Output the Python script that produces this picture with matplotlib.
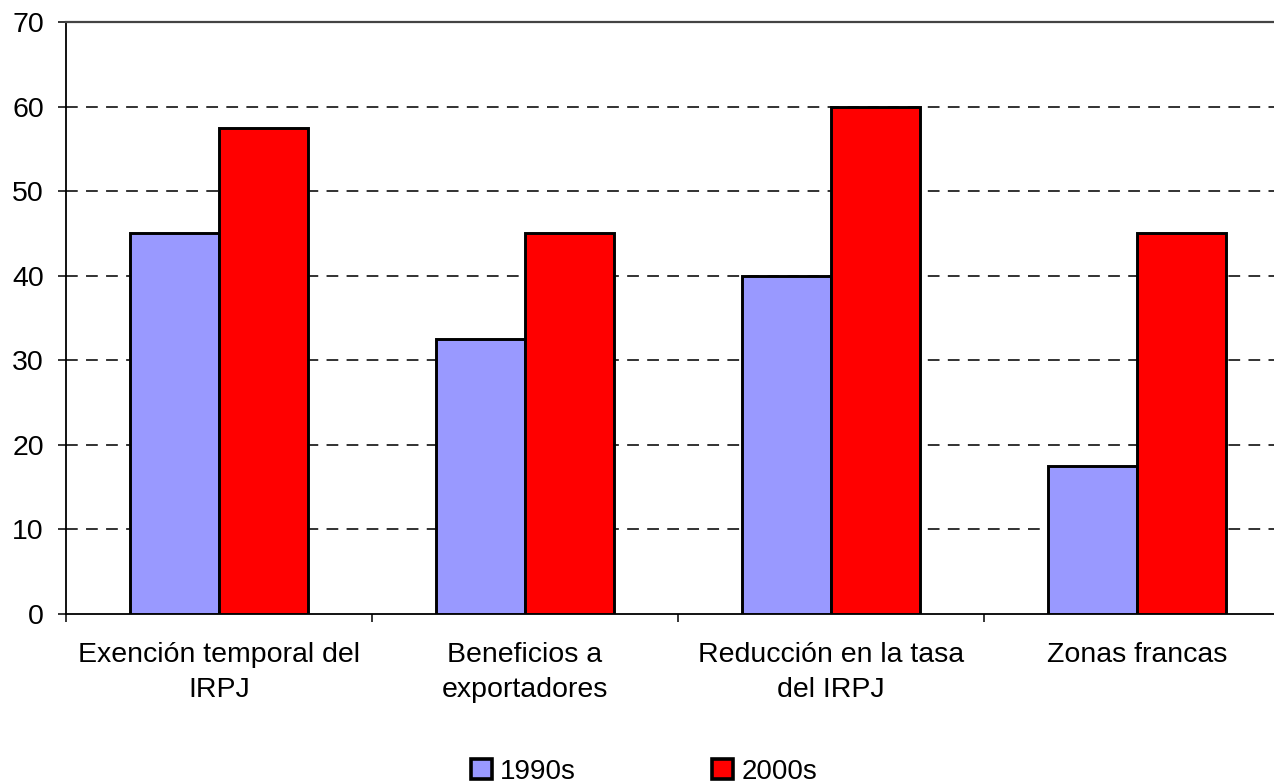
import matplotlib
matplotlib.use("Agg")
import matplotlib.pyplot as plt
import numpy as np
from matplotlib.patches import Patch

plt.rcParams['font.family'] = ['Liberation Sans', 'DejaVu Sans']

categories = ["Exención temporal del\nIRPJ", "Beneficios a\nexportadores",
              "Reducción en la tasa\ndel IRPJ", "Zonas francas"]
series_names = ["1990s", "2000s"]
values_1990s = [45, 32.5, 40, 17.5]
values_2000s = [57.5, 45, 60, 45]
y_ticks = [0, 10, 20, 30, 40, 50, 60, 70]

COL_90 = "#9999FF"
COL_00 = "#FF0000"

fig = plt.figure(figsize=(12.74, 7.84), dpi=100)
fig.patch.set_facecolor("white")
ax = fig.add_axes([66 / 1274, 1 - 614 / 784, 1224 / 1274, 592 / 784])

x = np.arange(len(categories))
w = 0.29
ax.bar(x - w / 2, values_1990s, w, color=COL_90, edgecolor="black", linewidth=2.1, zorder=3)
ax.bar(x + w / 2, values_2000s, w, color=COL_00, edgecolor="black", linewidth=2.1, zorder=3)

ax.set_xlim(-0.5, len(categories) - 0.5)
ax.set_ylim(0, 70)

# dashed gridlines
for t in y_ticks[1:-1]:
    ax.axhline(t, color="#222222", linewidth=1.3, linestyle=(0, (6.5, 4.6)), zorder=1)

ax.set_yticks(y_ticks)
ax.tick_params(axis="y", length=6, width=1.1, pad=10, labelsize=20.5, direction="out")

ax.set_xticks(np.arange(-0.5, len(categories) - 0.5, 1.0))
ax.set_xticklabels([])
ax.set_xticks(x, minor=True)
ax.set_xticklabels(categories, minor=True, fontsize=20.5, linespacing=1.45)
ax.tick_params(axis="x", which="major", length=6, width=1.1, direction="out")
ax.tick_params(axis="x", which="minor", length=0, pad=20)

for side in ["left", "bottom"]:
    ax.spines[side].set_color("black")
    ax.spines[side].set_linewidth(1.3)
ax.spines["top"].set_color("#444444")
ax.spines["top"].set_linewidth(1.6)
ax.spines["right"].set_visible(False)

handles = [Patch(facecolor=COL_90, edgecolor="black", linewidth=2.6),
           Patch(facecolor=COL_00, edgecolor="black", linewidth=2.6)]
fig.legend(handles, series_names, loc="center left",
           bbox_to_anchor=(471 / 1274, 1 - 772 / 784), ncol=2, frameon=False,
           fontsize=20, handlelength=0.75, handleheight=0.75, handletextpad=0.3,
           columnspacing=4.9, borderpad=0, borderaxespad=0)

fig.savefig("out.png", dpi=100, facecolor="white")
